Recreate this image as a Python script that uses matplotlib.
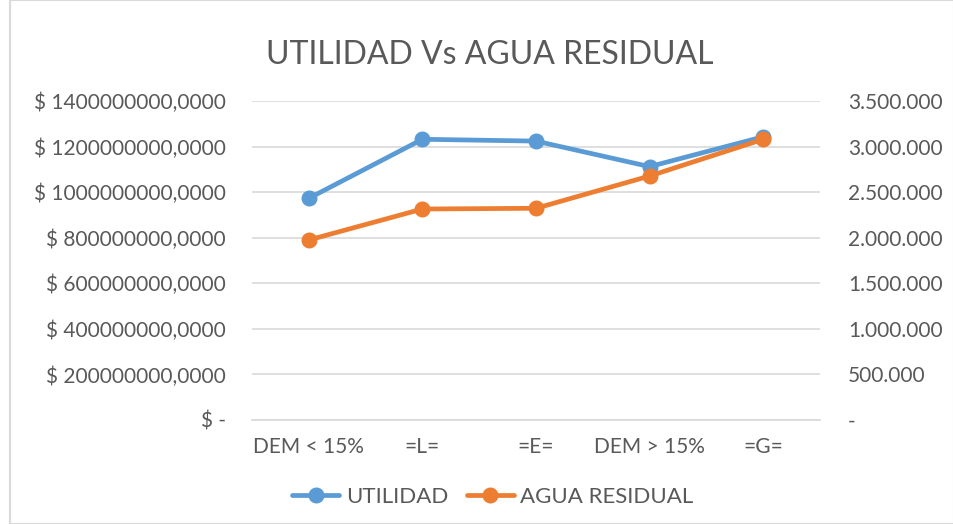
import matplotlib
matplotlib.use("Agg")
import matplotlib.pyplot as plt
from matplotlib.ticker import FuncFormatter, MultipleLocator
from matplotlib.patches import Rectangle

categories = ["DEM < 15%", "=L=", "=E=", "DEM > 15%", "=G="]
utilidad = [973e6, 1232e6, 1224e6, 1112e6, 1243e6]
agua_residual = [1975000, 2315000, 2323000, 2677000, 3080000]
title = "UTILIDAD Vs AGUA RESIDUAL"

plt.rcParams['font.family'] = ['Lato', 'DejaVu Sans']
TXT = '#595959'
BLUE = '#5B9BD5'
ORANGE = '#ED7D31'

fig = plt.figure(figsize=(9.54, 5.24), dpi=100)
ax = fig.add_axes([252/954, 1-420/524, (820-252)/954, (420-101)/524])
ax2 = ax.twinx()

x = list(range(len(categories)))
l1, = ax.plot(x, utilidad, color=BLUE, lw=3.4, marker='o', ms=10.5, solid_capstyle='round', zorder=3)
l2, = ax2.plot(x, agua_residual, color=ORANGE, lw=3.4, marker='o', ms=10.5, solid_capstyle='round', zorder=3)

ax.set_xlim(-0.5, len(categories)-0.5)
ax.set_ylim(0, 1.4e9)
ax2.set_ylim(0, 3.5e6)
ax.yaxis.set_major_locator(MultipleLocator(2e8))
ax2.yaxis.set_major_locator(MultipleLocator(5e5))

def lfmt(v, p):
    if abs(v) < 1:
        return "$ -"
    return "$ %d,0000" % int(round(v))

def rfmt(v, p):
    if abs(v) < 1:
        return "-"
    return "{:,}".format(int(round(v))).replace(",", ".")

ax.yaxis.set_major_formatter(FuncFormatter(lfmt))
ax2.yaxis.set_major_formatter(FuncFormatter(rfmt))
ax.set_xticks(x)
ax.set_xticklabels(categories)

ax.grid(axis='y', color='#D9D9D9', lw=1.2)
ax.set_axisbelow(True)
for a in (ax, ax2):
    for s in a.spines.values():
        s.set_visible(False)
    a.tick_params(length=0, labelsize=15, labelcolor=TXT)
ax.tick_params(axis='y', pad=19)
ax2.tick_params(axis='y', pad=20)
ax.tick_params(axis='x', pad=12)
ax.spines['bottom'].set_visible(True)
ax.spines['bottom'].set_color('#D9D9D9')
ax.spines['bottom'].set_linewidth(1.2)

fig.text(490/954, 1-55/524, title, ha='center', va='center', fontsize=23, color=TXT)

fig.legend([l1, l2], ["UTILIDAD", "AGUA RESIDUAL"], loc='center', bbox_to_anchor=(493/954, 1-497/524),
           ncol=2, frameon=False, fontsize=16, labelcolor=TXT, handlelength=2.1, columnspacing=0.85,
           handletextpad=0.3)

fig.patches.append(Rectangle((10/954, 0.0), 1-10/954, 1.0, transform=fig.transFigure,
                             fill=False, edgecolor='#D9D9D9', lw=1.5))

fig.savefig("out.png", dpi=100)
